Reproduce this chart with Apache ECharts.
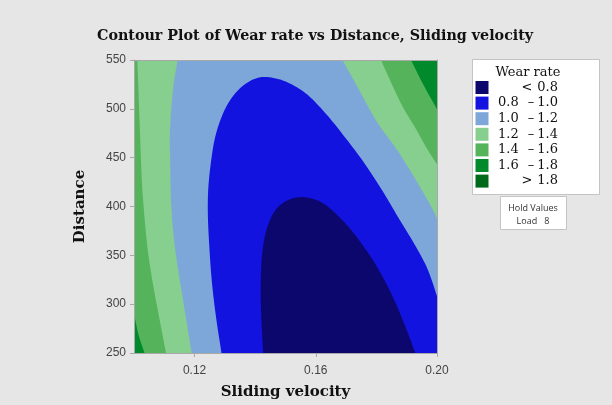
<!DOCTYPE html>
<html><head><meta charset="utf-8">
<script src="https://cdn.jsdelivr.net/npm/echarts@6/dist/echarts.min.js"></script>
<style>html,body{margin:0;padding:0;background:#e6e6e6}#c{width:612px;height:405px}</style>
</head><body><div id="c"></div>
<script>
// ---------- text / axes ----------
const chartTitle = 'Contour Plot of Wear rate vs Distance, Sliding velocity';
const xName = 'Sliding velocity';
const yName = 'Distance';
const xRange = [0.10, 0.20];
const yRange = [250, 550];
const xTicks = [0.12, 0.16, 0.20];
const yTicks = [250, 300, 350, 400, 450, 500, 550];
const legendTitle = 'Wear rate';
const bandLabels = [['<', '0.8'], ['0.8', '1.0'], ['1.0', '1.2'], ['1.2', '1.4'], ['1.4', '1.6'], ['1.6', '1.8'], ['>', '1.8']];
const holdTitle = 'Hold Values';
const holdVar = 'Load';
const holdValue = 8;

// ---------- contour lines: [sliding velocity, distance] ----------
const contour16Left = [[0.1000, 290.3], [0.10155, 268.1], [0.10346, 250]];
const contour16Right = [[0.19142, 550], [0.19547, 524.8], [0.2000, 499.7]];
const contour14Left = [[0.10109, 550], [0.10198, 474.5], [0.10263, 424.2], [0.10346, 388.9], [0.10461, 353.7], [0.10609, 323.5], [0.10807, 290.3], [0.11054, 250]];
const contour14Right = [[0.18154, 550], [0.18516, 524.8], [0.18878, 501.6], [0.19306, 479.4], [0.19668, 459.3], [0.2000, 443.2]];
const contour12Left = [[0.11439, 550], [0.11294, 521.8], [0.11185, 474.5], [0.11195, 444.3], [0.11218, 409.1], [0.11267, 383.9], [0.11350, 358.7], [0.11465, 333.6], [0.11597, 308.4], [0.11745, 280.2], [0.11900, 250]];
const contour12Right = [[0.16881, 550], [0.17440, 518.8], [0.18000, 487.6], [0.18757, 454.4], [0.19416, 421.1], [0.19910, 394], [0.2000, 387]];
const contour10 = [[0.12887, 250], [0.12700, 288.3], [0.12568, 323.5], [0.12486, 358.7], [0.12436, 394.0], [0.12453, 419.1],
  [0.12535, 444.3], [0.12667, 469.5], [0.12864, 489.6], [0.13128, 506.7], [0.13490, 520.8], [0.13885, 529.4],
  [0.14247, 532.6], [0.14642, 531.4], [0.15004, 527.9], [0.15630, 516.8], [0.16288, 496.6], [0.16947, 471.5],
  [0.17605, 444.3], [0.18198, 416.1], [0.18757, 386.9], [0.19251, 361.7], [0.19679, 336.6], [0.2000, 308.4]];
const contour08 = [[0.14263, 250], [0.14198, 288.3], [0.14181, 318.5], [0.14204, 341.6], [0.14257, 358.7], [0.14369, 375.8],
  [0.14576, 391.9], [0.14774, 400.0], [0.15027, 405.7], [0.15300, 408.8], [0.15564, 409.6], [0.15992, 407.0],
  [0.16354, 401.0], [0.16749, 389.9], [0.17144, 376.8], [0.17539, 360.7], [0.17934, 342.6], [0.18527, 308.4],
  [0.18978, 275.2], [0.19284, 250]];

// ---------- styles ----------
const bandColors = ['#0b076c', '#1313e0', '#7ea7d9', '#86cf8e', '#54b35b', '#008a2b', '#006a1c'];
const frameColor = '#a8a8a8';

// centripetal Catmull-Rom drawing of a curve through the given pixel points
function spline(p) {
  const n = p.length;
  if (n < 3) return p;
  const ext = [[2 * p[0][0] - p[1][0], 2 * p[0][1] - p[1][1]]].concat(p, [[2 * p[n - 1][0] - p[n - 2][0], 2 * p[n - 1][1] - p[n - 2][1]]]);
  const dist = (a, b) => Math.pow(Math.hypot(a[0] - b[0], a[1] - b[1]), 0.5) + 1e-6;
  const lerp = (a, b, ta, tb, t) => [0, 1].map(k => ((tb - t) * a[k] + (t - ta) * b[k]) / (tb - ta));
  const out = [];
  for (let i = 1; i < ext.length - 2; i++) {
    const P0 = ext[i - 1], P1 = ext[i], P2 = ext[i + 1], P3 = ext[i + 2];
    const t0 = 0, t1 = t0 + dist(P0, P1), t2 = t1 + dist(P1, P2), t3 = t2 + dist(P2, P3);
    const steps = 10;
    for (let s = 0; s < steps; s++) {
      const t = t1 + (t2 - t1) * s / steps;
      const A1 = lerp(P0, P1, t0, t1, t), A2 = lerp(P1, P2, t1, t2, t), A3 = lerp(P2, P3, t2, t3, t);
      const B1 = lerp(A1, A2, t0, t2, t), B2 = lerp(A2, A3, t1, t3, t);
      out.push(lerp(B1, B2, t1, t2, t));
    }
  }
  out.push(p[n - 1]);
  return out;
}

function bandSeries(name, color, parts) {
  const all = [].concat(...parts.map(p => p.pts));
  return {
    type: 'custom', name: name, coordinateSystem: 'cartesian2d', xAxisIndex: 0, yAxisIndex: 0, clip: true, silent: true,
    data: all, encode: { x: 0, y: 1 },
    renderItem: function (params, api) {
      if (params.dataIndex !== 0) return null;
      let poly = [];
      parts.forEach(p => {
        const px = p.pts.map(pt => api.coord(pt));
        poly = poly.concat(p.curve ? spline(px) : px);
      });
      return { type: 'polygon', shape: { points: poly }, style: { fill: color } };
    }
  };
}
const [x0, x1] = xRange, [y0, y1] = yRange;
const rev = a => a.slice().reverse();
const series = [
  bandSeries('1.6 – 1.8', bandColors[5], [{ pts: [[x0, y0], [x0, y1], [x1, y1], [x1, y0]] }]),
  bandSeries('1.4 – 1.6', bandColors[4], [{ pts: [[x0, y1]] }, { pts: contour16Right, curve: true }, { pts: [[x1, y0]] }, { pts: rev(contour16Left), curve: true }]),
  bandSeries('1.2 – 1.4', bandColors[3], [{ pts: contour14Left, curve: true }, { pts: [[x1, y0]] }, { pts: rev(contour14Right), curve: true }]),
  bandSeries('1.0 – 1.2', bandColors[2], [{ pts: contour12Left, curve: true }, { pts: [[x1, y0]] }, { pts: rev(contour12Right), curve: true }]),
  bandSeries('0.8 – 1.0', bandColors[1], [{ pts: contour10, curve: true }, { pts: [[x1, y0]] }]),
  bandSeries('< 0.8', bandColors[0], [{ pts: contour08, curve: true }])
];

// ---------- legend (graphic) ----------
const serif = '"DejaVu Serif", serif';
const lgLeft = 472, lgTop = 59, rowH = 15.6;
const graphic = [
  { type: 'rect', left: lgLeft, top: lgTop, shape: { width: 127, height: 135 }, style: { fill: '#fff', stroke: '#c4c4c4', lineWidth: 1 }, z: 10 },
  { type: 'text', x: 528, y: 73, style: { text: legendTitle, font: '13px ' + serif, fill: '#111', align: 'center', verticalAlign: 'middle' }, z: 11 },
  { type: 'rect', left: 500, top: 196, shape: { width: 66, height: 33 }, style: { fill: '#fff', stroke: '#c4c4c4', lineWidth: 1 }, z: 10 },
  { type: 'text', x: 533, y: 208, style: { text: holdTitle, font: '9px "Open Sans", sans-serif', fill: '#333', align: 'center', verticalAlign: 'middle' }, z: 11 },
  { type: 'text', x: 533, y: 221, style: { text: holdVar + '   ' + holdValue, font: '9px "Open Sans", sans-serif', fill: '#333', align: 'center', verticalAlign: 'middle' }, z: 11 }
];
bandLabels.forEach((lab, i) => {
  const yc = 87.5 + i * rowH;
  graphic.push({ type: 'rect', left: 475.5, top: yc - 6.5, shape: { width: 13, height: 13 }, style: { fill: bandColors[i] }, z: 11 });
  const f = '13px ' + serif;
  if (lab[0] === '<' || lab[0] === '>') {
    graphic.push({ type: 'text', x: 527, y: yc, style: { text: lab[0], font: f, fill: '#111', align: 'center', verticalAlign: 'middle' }, z: 11 });
  } else {
    graphic.push({ type: 'text', x: 498, y: yc, style: { text: lab[0], font: f, fill: '#111', align: 'left', verticalAlign: 'middle' }, z: 11 });
    graphic.push({ type: 'text', x: 531, y: yc, style: { text: '–', font: f, fill: '#111', align: 'center', verticalAlign: 'middle' }, z: 11 });
  }
  graphic.push({ type: 'text', x: 558, y: yc, style: { text: lab[1], font: f, fill: '#111', align: 'right', verticalAlign: 'middle' }, z: 11 });
});

const frameAxis = { min: 0, max: 1, type: 'value', z: 10, axisLine: { show: true, onZero: false, lineStyle: { color: frameColor } }, axisTick: { show: false }, axisLabel: { show: false }, splitLine: { show: false } };

const chart = echarts.init(document.getElementById('c'), null, { renderer: 'canvas' });
chart.setOption({
  backgroundColor: '#e6e6e6',
  animation: false,
  title: { text: chartTitle, left: 92, top: 24, textStyle: { fontFamily: serif, fontWeight: 'bold', fontSize: 14.3, color: '#111' } },
  grid: { left: 134, right: 175, top: 60, bottom: 47, show: false },
  xAxis: [{
    type: 'value', min: x0, max: x1, name: xName, nameLocation: 'middle', nameGap: 32, z: 10,
    nameTextStyle: { fontFamily: serif, fontWeight: 'bold', fontSize: 15, color: '#111' },
    axisLine: { show: true, onZero: false, lineStyle: { color: frameColor } },
    axisTick: { show: true, length: 4, lineStyle: { color: frameColor }, customValues: xTicks },
    axisLabel: { customValues: xTicks, formatter: v => v.toFixed(2), color: '#444', fontFamily: '"Liberation Sans", sans-serif', fontSize: 12, margin: 12 },
    splitLine: { show: false }
  }, Object.assign({ position: 'top' }, frameAxis)],
  yAxis: [{
    type: 'value', min: y0, max: y1, interval: 50, name: yName, nameLocation: 'middle', nameGap: 46, z: 10,
    nameTextStyle: { fontFamily: serif, fontWeight: 'bold', fontSize: 15, color: '#111' },
    axisLine: { show: true, onZero: false, lineStyle: { color: frameColor } },
    axisTick: { show: true, length: 4, lineStyle: { color: frameColor }, customValues: yTicks },
    axisLabel: { customValues: yTicks, color: '#444', fontFamily: '"Liberation Sans", sans-serif', fontSize: 12, margin: 8 },
    splitLine: { show: false }
  }, Object.assign({ position: 'right' }, frameAxis)],
  graphic: graphic,
  series: series
});
</script></body></html>
